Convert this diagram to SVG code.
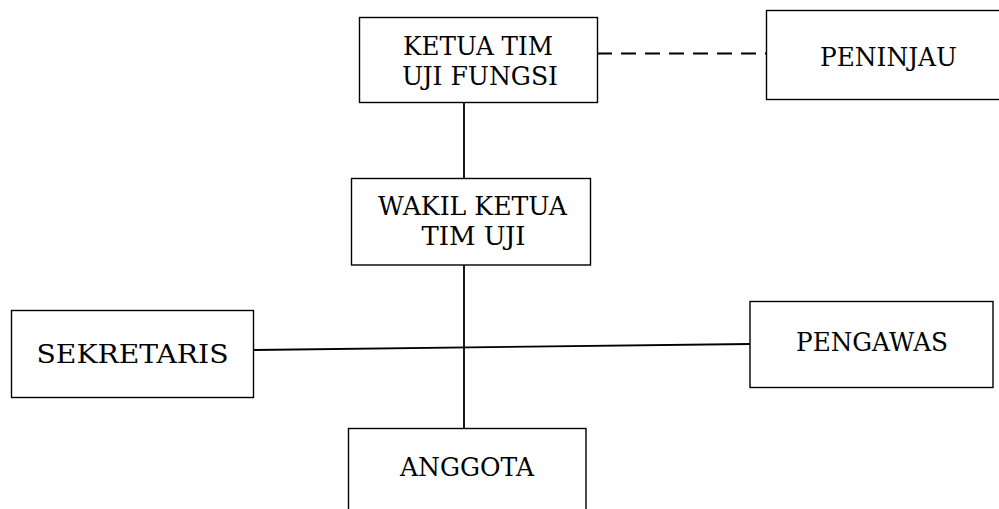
<svg xmlns="http://www.w3.org/2000/svg" width="999" height="509" viewBox="0 0 999 509">
<style>
.box{fill:#fff;stroke:#000;stroke-width:1.4}
.t{font-family:"DejaVu Serif","Liberation Serif",serif;font-size:26px;fill:#000;text-anchor:start}
.c{fill:none;stroke:#000;stroke-width:1.8}
</style>
<rect width="999" height="509" fill="#fff"/>
<g id="connectors">
<line class="c" x1="464" y1="103" x2="464" y2="178"/>
<line class="c" x1="464" y1="265" x2="464" y2="428"/>
<line class="c" x1="253" y1="350" x2="750" y2="344"/>
<line class="c" x1="597" y1="53.5" x2="766" y2="53.5" stroke-dasharray="15 9"/>
</g>
<g id="ketua">
<rect class="box" x="359.5" y="17.5" width="238" height="85"/>
<text class="t" x="403" y="54.5" textLength="150" lengthAdjust="spacingAndGlyphs">KETUA TIM</text>
<text class="t" x="402" y="85" textLength="156" lengthAdjust="spacingAndGlyphs">UJI FUNGSI</text>
</g>
<g id="peninjau">
<rect class="box" x="766.5" y="10.5" width="250" height="89"/>
<text class="t" x="820" y="65.5" textLength="137" lengthAdjust="spacingAndGlyphs">PENINJAU</text>
</g>
<g id="wakil">
<rect class="box" x="351.5" y="178.5" width="239" height="86.5"/>
<text class="t" x="378" y="215" textLength="189" lengthAdjust="spacingAndGlyphs">WAKIL KETUA</text>
<text class="t" x="421.5" y="245" textLength="104" lengthAdjust="spacingAndGlyphs">TIM UJI</text>
</g>
<g id="sekretaris">
<rect class="box" x="11.5" y="310.5" width="242" height="87"/>
<text class="t" x="36.5" y="362.5" textLength="192" lengthAdjust="spacingAndGlyphs">SEKRETARIS</text>
</g>
<g id="pengawas">
<rect class="box" x="750" y="301.5" width="243" height="86"/>
<text class="t" x="796" y="350.5" textLength="152" lengthAdjust="spacingAndGlyphs">PENGAWAS</text>
</g>
<g id="anggota">
<rect class="box" x="348.5" y="428.5" width="237.5" height="100"/>
<text class="t" x="400" y="476" textLength="134" lengthAdjust="spacingAndGlyphs">ANGGOTA</text>
</g>
</svg>
